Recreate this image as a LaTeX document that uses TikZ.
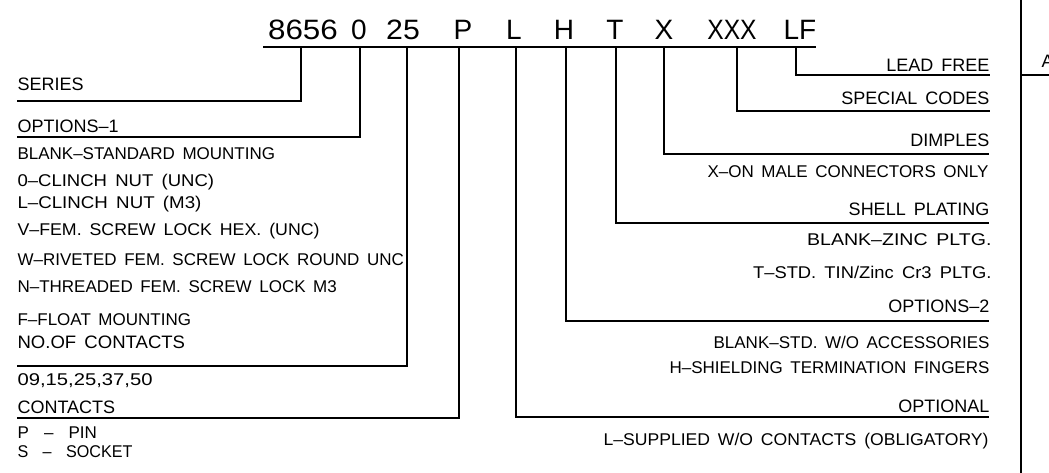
\documentclass[tikz,border=0pt]{standalone}
\usepackage{fontspec}
\setmainfont{Liberation Sans}[WordSpace=1.6]
\newcommand{\sx}[2]{\scalebox{#1}[1]{#2}}
\begin{document}
\begin{tikzpicture}[x=1pt,y=-1pt, line width=1.1pt,
  head/.style={font=\fontsize{18}{20}\selectfont, inner sep=0pt},
  opt/.style={font=\fontsize{17}{19}\selectfont, inner sep=0pt},
  code/.style={font=\fontsize{28}{30}\selectfont, inner sep=0pt, anchor=base}]
\useasboundingbox (0,0) rectangle (1049,473);

% code row
\node[code] (c1) at (303,40) {\sx{1.12}{8656}};
\node[code] (c2) at (359,40) {0};
\node[code] (c3) at (403,40) {\sx{1.08}{25}};
\node[code] (c4) at (463,40) {P};
\node[code] (c5) at (514,40) {L};
\node[code] (c6) at (564,40) {H};
\node[code] (c7) at (615,40) {T};
\node[code] (c8) at (664,40) {X};
\node[code] (c9) at (732,40) {\sx{0.88}{XXX}};
\node[code] (c10) at (800,40) {LF};

\coordinate (clA) at (263,47);
\coordinate (clB) at (816,47);
\draw (clA) -- (clB);

\coordinate (t1) at (301,47);
\coordinate (t2) at (360,47);
\coordinate (t3) at (407,47);
\coordinate (t4) at (459,47);
\coordinate (t5) at (516,47);
\coordinate (t6) at (566,47);
\coordinate (t7) at (616,47);
\coordinate (t8) at (664,47);
\coordinate (t9) at (737,47);
\coordinate (t10) at (796,47);

% left side
\node[head, anchor=base west] (series) at (17,91) {SERIES};
\node[head, anchor=base west] (opt1) at (17,133) {OPTIONS--1};
\node[opt, anchor=base west] (o1a) at (17,160) {BLANK--STANDARD MOUNTING};
\node[opt, anchor=base west] (o1b) at (17,186) {\sx{1.09}{0--CLINCH NUT (UNC)}};
\node[opt, anchor=base west] (o1c) at (17,208) {\sx{1.1}{L--CLINCH NUT (M3)}};
\node[opt, anchor=base west] (o1d) at (17,235) {\sx{1.045}{V--FEM. SCREW LOCK HEX. (UNC)}};
\node[opt, anchor=base west] (o1e) at (17,265) {W--RIVETED FEM. SCREW LOCK ROUND UNC};
\node[opt, anchor=base west] (o1f) at (17,292) {N--THREADED FEM. SCREW LOCK M3};
\node[opt, anchor=base west] (o1g) at (17,325) {F--FLOAT MOUNTING};
\node[head, anchor=base west] (noc) at (17,348) {\sx{1.03}{NO.OF CONTACTS}};
\node[opt, anchor=base west] (nocv) at (17,385) {\sx{1.19}{09,15,25,37,50}};
\node[head, anchor=base west] (cont) at (17,413) {CONTACTS};
\node[opt, anchor=base west] (contp) at (17,438) {P\ \ --\ \ PIN};
\node[opt, anchor=base west] (conts) at (17,457) {\sx{0.95}{S\ \ --\ \ SOCKET}};

\coordinate (e1) at (17,101);
\coordinate (e2) at (17,137);
\coordinate (e3) at (17,366);
\coordinate (e4) at (17,418);
\draw (t1) |- (e1);
\draw (t2) |- (e2);
\draw (t3) |- (e3);
\draw (t4) |- (e4);

% right side
\node[head, anchor=base east] (lf) at (990,72) {LEAD FREE};
\node[head, anchor=base east] (spc) at (990,105) {SPECIAL CODES};
\node[head, anchor=base east] (dim) at (990,147) {DIMPLES};
\node[opt, anchor=base east] (dimx) at (989,178) {X--ON MALE CONNECTORS ONLY};
\node[head, anchor=base east] (shp) at (990,215) {SHELL PLATING};
\node[opt, anchor=base east] (shpa) at (992,245) {\sx{1.15}{BLANK--ZINC PLTG.}};
\node[opt, anchor=base east] (shpb) at (992,278) {\sx{1.08}{T--STD. TIN/Zinc Cr3 PLTG.}};
\node[head, anchor=base east] (opt2) at (990,312) {OPTIONS--2};
\node[opt, anchor=base east] (o2a) at (990,348) {BLANK--STD. W/O ACCESSORIES};
\node[opt, anchor=base east] (o2b) at (990,373) {H--SHIELDING TERMINATION FINGERS};
\node[head, anchor=base east] (optl) at (990,412) {OPTIONAL};
\node[opt, anchor=base east] (optla) at (989,445) {\sx{1.035}{L--SUPPLIED W/O CONTACTS (OBLIGATORY)}};

\coordinate (r5) at (989,417);
\coordinate (r6) at (989,321);
\coordinate (r7) at (989,223);
\coordinate (r8) at (989,154);
\coordinate (r9) at (990,111);
\coordinate (r10) at (990,75);
\draw (t5) |- (r5);
\draw (t6) |- (r6);
\draw (t7) |- (r7);
\draw (t8) |- (r8);
\draw (t9) |- (r9);
\draw (t10) |- (r10);

% frame at right edge
\coordinate (fA) at (1021,0);
\coordinate (fB) at (1021,473);
\coordinate (fC) at (1021,75);
\coordinate (fD) at (1049,75);
\draw (fA) -- (fB);
\draw (fC) -- (fD);
\node[head, anchor=base west] (frA) at (1041,68) {A};
\end{tikzpicture}
\end{document}
